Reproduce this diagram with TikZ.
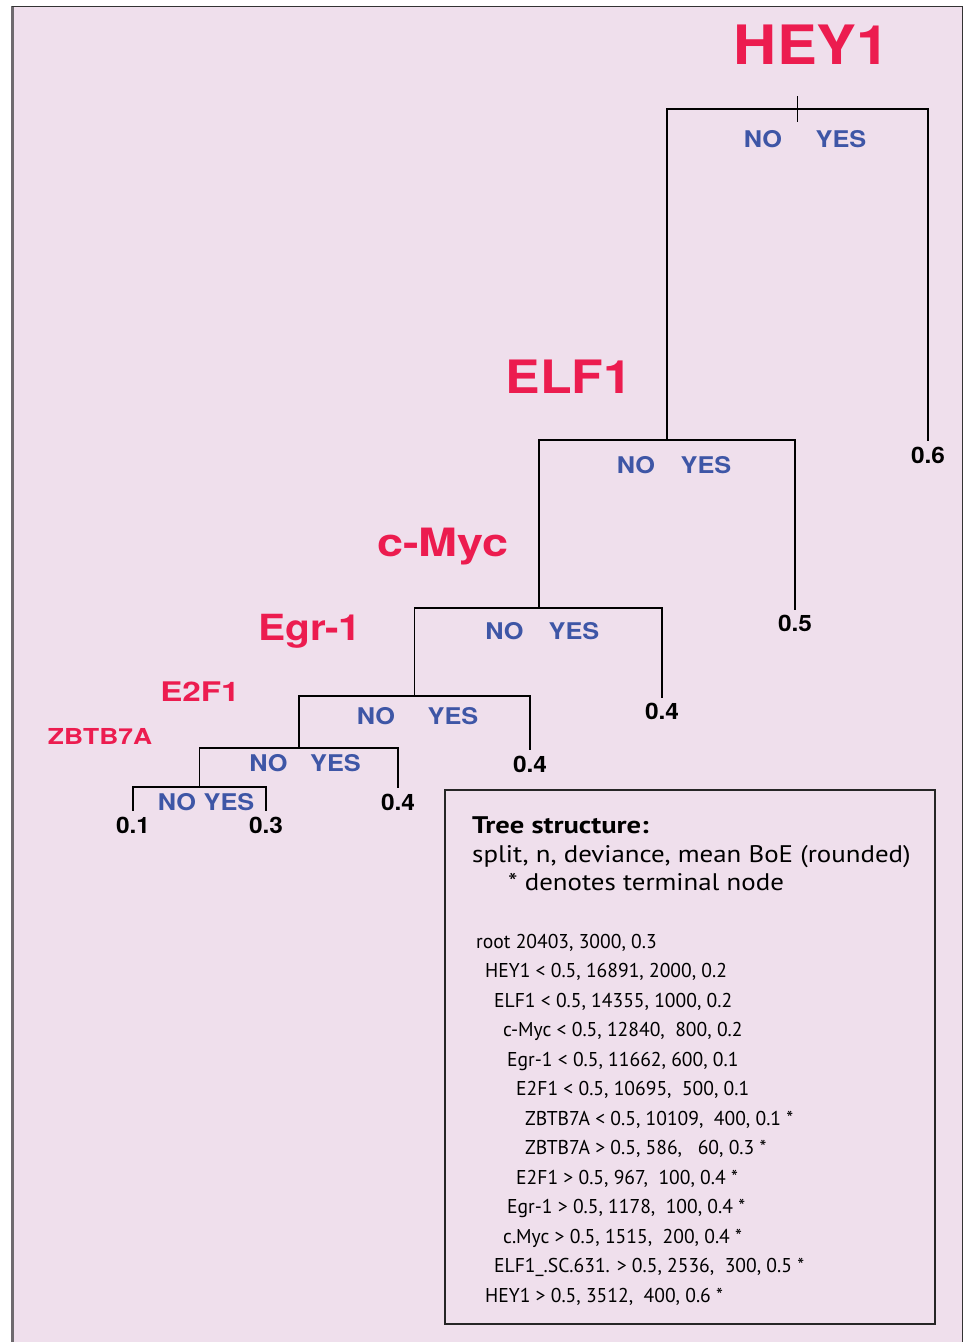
\documentclass[tikz,border=0pt]{standalone}
\usepackage{fontspec}
\setmainfont{TeX Gyre Heros}
\newfontfamily\legendfont[FakeStretch=1.12]{PT Sans}
\newfontfamily\headfont[FakeStretch=1.19]{PT Sans}
\newfontfamily\rowfont[FakeStretch=0.98]{PT Sans}
\definecolor{panel}{RGB}{239,223,236}
\definecolor{genered}{RGB}{236,28,79}
\definecolor{answerblue}{RGB}{62,86,166}
\definecolor{framegray}{RGB}{110,106,110}
\newcommand{\wide}[2]{\scalebox{#1}[1]{#2}}
\newcommand{\fsz}[1]{\fontsize{#1}{#1}\selectfont}

\begin{document}
\begin{tikzpicture}[x=1pt,y=-1pt,
  gene/.style={anchor=base, inner sep=0pt, text=genered, font=\bfseries\fsz{#1}},
  answer/.style={anchor=base, inner sep=0pt, text=answerblue, font=\bfseries\fsz{23}},
  leaf/.style={anchor=north, inner sep=0pt, font=\bfseries\fsz{22.6}},
  branch/.style={line width=1.8pt, line join=miter, line cap=rect},
  legendbox/.style={draw=black!85, line width=1.2pt, minimum width=490pt, minimum height=534pt, inner sep=0pt},
  legendtxt/.style={anchor=base west, inner sep=0pt, font=\legendfont\fsz{24}},
  row/.style={anchor=base west, inner sep=0pt, font=\rowfont\fsz{20}}
]
\useasboundingbox (0,0) rectangle (964,1342);

% panel
\fill[white] (0,0) rectangle (964,1342);
\fill[panel] (12,6) rectangle (963,1342);
\draw[framegray, line width=2.2pt] (12.5,6) -- (12.5,1342);
\draw[black!80, line width=1pt] (12,6) -- (963,6);
\draw[black!80, line width=1.4pt] (962.5,6) -- (962.5,1342);

% split points
\coordinate (s1) at (797.5,109);
\coordinate (s2) at (667,440);
\coordinate (s3) at (539,608);
\coordinate (s4) at (414.5,696);
\coordinate (s5) at (299,748);
\coordinate (s6) at (199.5,787);
\coordinate (t1) at (797.5,97);

% split variables
\node[gene=54.3] (hey1) at (812,64) {\wide{1.1}{HEY1}};
\node[gene=46] (elf1) at (569,393) {\wide{1.126}{ELF1}};
\node[gene=39] (cmyc) at (443,556) {\wide{1.2}{c-Myc}};
\node[gene=36] (egr1) at (310,640) {\wide{1.13}{Egr-1}};
\node[gene=27] (e2f1) at (200,701) {\wide{1.23}{E2F1}};
\node[gene=22] (zbtb) at (100,744) {\wide{1.2}{ZBTB7A}};

% branch answers
\node[answer] (no1) at (763,147) {\wide{1.1}{NO}};
\node[answer] (yes1) at (841,147) {\wide{1.1}{YES}};
\node[answer] (no2) at (636,473) {\wide{1.1}{NO}};
\node[answer] (yes2) at (706,473) {\wide{1.1}{YES}};
\node[answer] (no3) at (504.5,639) {\wide{1.1}{NO}};
\node[answer] (yes3) at (574,639) {\wide{1.1}{YES}};
\node[answer] (no4) at (376,724) {\wide{1.1}{NO}};
\node[answer] (yes4) at (453,724) {\wide{1.1}{YES}};
\node[answer] (no5) at (268.5,771) {\wide{1.1}{NO}};
\node[answer] (yes5) at (335.5,771) {\wide{1.1}{YES}};
\node[answer] (no6) at (177,810) {\wide{1.1}{NO}};
\node[answer] (yes6) at (229,810) {\wide{1.1}{YES}};

% terminal nodes
\node[leaf] (l06) at (928,447) {\wide{1.08}{0.6}};
\node[leaf] (l05) at (795,615) {\wide{1.08}{0.5}};
\node[leaf] (l04a) at (662,703) {\wide{1.08}{0.4}};
\node[leaf] (l04b) at (530,756) {\wide{1.08}{0.4}};
\node[leaf] (l04c) at (398,794) {\wide{1.08}{0.4}};
\node[leaf] (l01) at (133,817) {\wide{1.08}{0.1}};
\node[leaf] (l03) at (266,817) {\wide{1.08}{0.3}};

% tree
\draw[branch] (t1) -- ++(0,24);
\draw[branch] (s2) |- (s1) -| ([yshift=7pt]l06.north);
\draw[branch] (s3) |- (s2) -| ([yshift=6pt]l05.north);
\draw[branch] (s4) |- (s3) -| ([yshift=6pt]l04a.north);
\draw[branch] (s5) |- (s4) -| ([yshift=7pt]l04b.north);
\draw[branch] (s6) |- (s5) -| ([yshift=7pt]l04c.north);
\draw[branch] ([yshift=7pt]l01.north) |- (s6) -| ([yshift=7pt]l03.north);

% legend
\node[legendbox] (legend) at (690,1057) {};
\node[legendtxt, font=\headfont\bfseries\fsz{24}] (lhead) at (472,833) {Tree structure:};
\node[legendtxt] (lcols) at (472,862) {split, n, deviance, mean BoE (rounded)};
\node[legendtxt] (lstar) at (508,890) {* denotes terminal node};

\node[row] (r1) at (476,948) {root 20403, 3000, 0.3};
\node[row] (r2) at (485,977.5) {HEY1 < 0.5, 16891, 2000, 0.2};
\node[row] (r3) at (494,1007) {ELF1 < 0.5, 14355, 1000, 0.2};
\node[row] (r4) at (503,1036.5) {c-Myc < 0.5, 12840,\ \ 800, 0.2};
\node[row] (r5) at (507,1066) {Egr-1 < 0.5, 11662, 600, 0.1};
\node[row] (r6) at (516,1095.5) {E2F1 < 0.5, 10695,\ \ 500, 0.1};
\node[row] (r7) at (525,1125) {ZBTB7A < 0.5, 10109,\ \ 400, 0.1 *};
\node[row] (r8) at (525,1154.5) {ZBTB7A > 0.5, 586,\ \ \ 60, 0.3 *};
\node[row] (r9) at (516,1184) {E2F1 > 0.5, 967,\ \ 100, 0.4 *};
\node[row] (r10) at (507,1213.5) {Egr-1 > 0.5, 1178,\ \ 100, 0.4 *};
\node[row] (r11) at (503,1243) {c.Myc > 0.5, 1515,\ \ 200, 0.4 *};
\node[row] (r12) at (494,1272.5) {ELF1\_.SC.631. > 0.5, 2536,\ \ 300, 0.5 *};
\node[row] (r13) at (485,1302) {HEY1 > 0.5, 3512,\ \ 400, 0.6 *};
\end{tikzpicture}
\end{document}
